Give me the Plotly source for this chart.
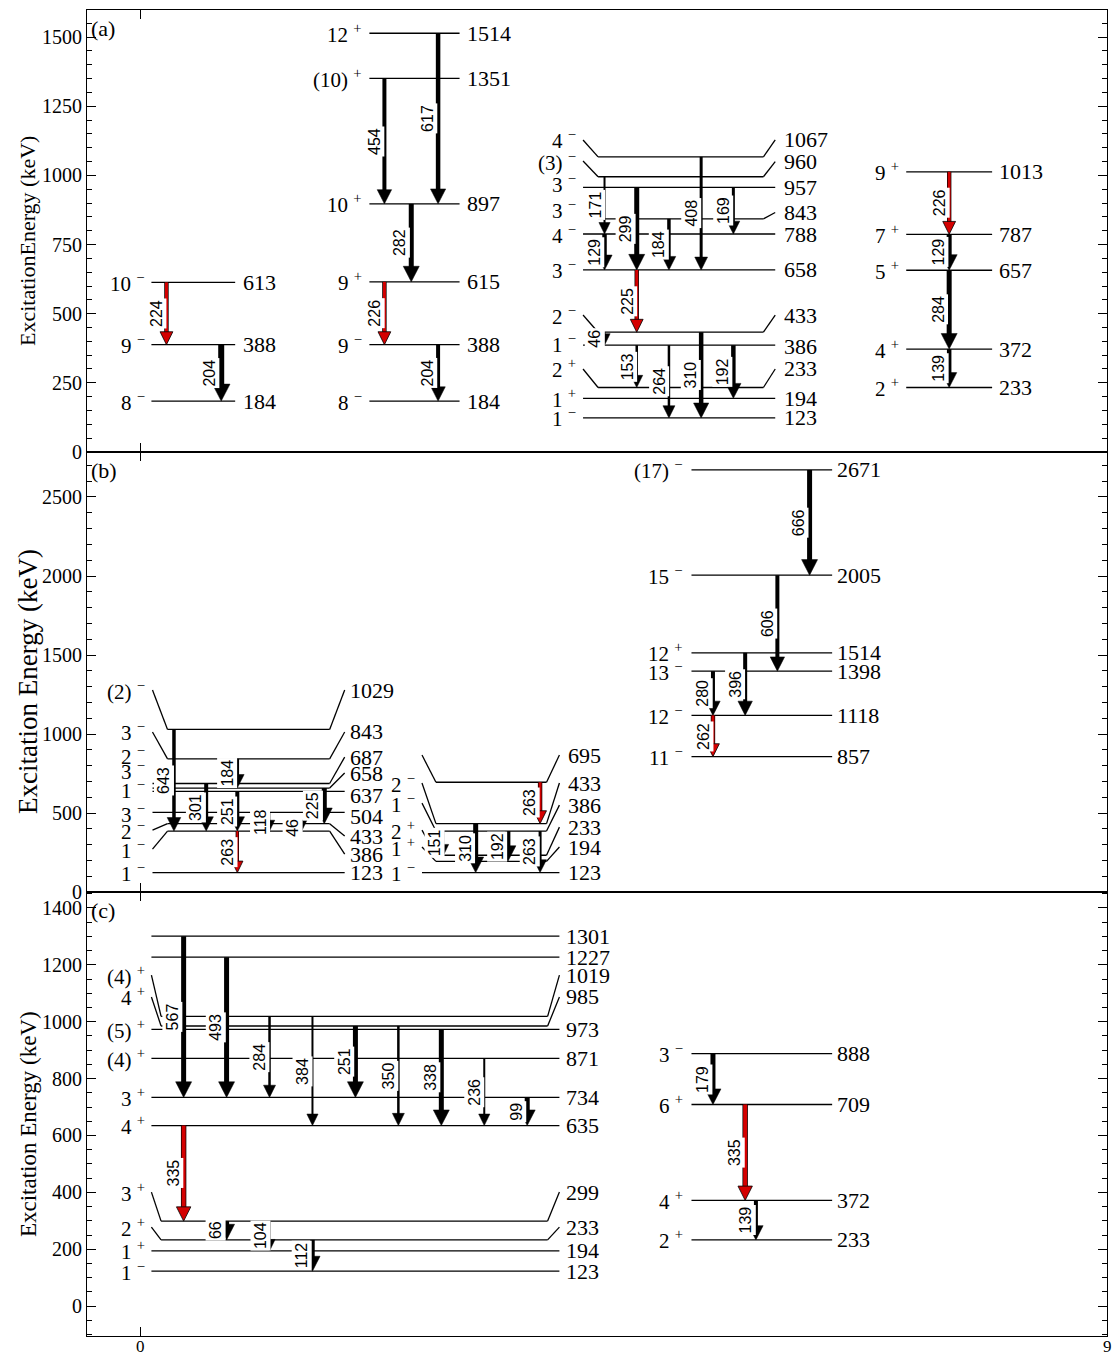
import plotly.graph_objects as go

# ---------------------------------------------------------------------------
# Level energies (keV), spin-parity assignments and gamma transitions
# ---------------------------------------------------------------------------
# Panel (a)
A1_LEVELS = [613, 388, 184]
A1_SPINS = ["10-", "9-", "8-"]
A1_GAMMA = [224, 204]
A1_FROM = [613, 388]
A1_TO = [388, 184]

A2_LEVELS = [1514, 1351, 897, 615, 388, 184]
A2_SPINS = ["12+", "(10)+", "10+", "9+", "9-", "8-"]
A2_GAMMA = [454, 617, 282, 226, 204]
A2_FROM = [1351, 1514, 897, 615, 388]
A2_TO = [897, 897, 615, 388, 184]

A3_LEVELS = [1067, 960, 957, 843, 788, 658, 433, 386, 233, 194, 123]
A3_SPINS = ["4-", "(3)-", "3-", "3-", "4-", "3-", "2-", "1-", "2+", "1+", "1-"]
A3_GAMMA = [171, 129, 299, 184, 408, 169, 225, 46, 153, 264, 310, 192]
A3_FROM = [960, 788, 957, 843, 1067, 957, 658, 433, 386, 386, 433, 386]
A3_TO = [788, 658, 658, 658, 658, 788, 433, 386, 233, 123, 123, 194]

A4_LEVELS = [1013, 787, 657, 372, 233]
A4_SPINS = ["9+", "7+", "5+", "4+", "2+"]
A4_GAMMA = [226, 129, 284, 139]
A4_FROM = [1013, 787, 657, 372]
A4_TO = [787, 657, 372, 233]

# Panel (b)
B1_LEVELS = [1029, 843, 687, 658, 637, 504, 433, 386, 123]
B1_SPINS = ["(2)-", "3-", "2-", "3-", "1-", "3-", "2-", "1-", "1-"]
B1_GAMMA = [643, 301, 184, 251, 263, 118, 46, 225]
B1_FROM = [1029, 687, 843, 637, 386, 504, 433, 658]
B1_TO = [386, 386, 658, 386, 123, 386, 386, 433]

B2_LEVELS = [695, 433, 386, 233, 194, 123]
B2_SPINS = ["", "2-", "1-", "2+", "1+", "1-"]
B2_GAMMA = [151, 310, 192, 263, 263]
B2_FROM = [386, 433, 386, 695, 386]
B2_TO = [233, 123, 194, 433, 123]

B3_LEVELS = [2671, 2005, 1514, 1398, 1118, 857]
B3_SPINS = ["(17)-", "15-", "12+", "13-", "12-", "11-"]
B3_GAMMA = [666, 606, 396, 280, 262]
B3_FROM = [2671, 2005, 1514, 1398, 1118]
B3_TO = [2005, 1398, 1118, 1118, 857]

# Panel (c)
C1_LEVELS = [1301, 1227, 1019, 985, 973, 871, 734, 635, 299, 233, 194, 123]
C1_SPINS = ["", "", "(4)+", "4+", "(5)+", "(4)+", "3+", "4+", "3+", "2+", "1+", "1-"]
C1_GAMMA = [567, 493, 284, 384, 251, 350, 338, 236, 99, 335, 66, 104, 112]
C1_FROM = [1301, 1227, 1019, 1019, 985, 985, 973, 871, 734, 635, 299, 299, 233]
C1_TO = [734, 734, 734, 635, 734, 635, 635, 635, 635, 299, 233, 194, 123]

C2_LEVELS = [888, 709, 372, 233]
C2_SPINS = ["3-", "6+", "4+", "2+"]
C2_GAMMA = [179, 335, 139]
C2_FROM = [888, 709, 372]
C2_TO = [709, 372, 233]

X_TICKS = [0, 9]

# ---------------------------------------------------------------------------
# Figure geometry
# ---------------------------------------------------------------------------
FIG_W, FIG_H = 1116, 1358
MARGIN = dict(l=87, r=9, t=10, b=22)
X_RANGE = [-0.5, 9]
PLOT_W = FIG_W - MARGIN["l"] - MARGIN["r"]
PLOT_H = FIG_H - MARGIN["t"] - MARGIN["b"]

PANELS = {
    "a": dict(xa="x3", ya="y3", domain=[0.6667, 1.0], yrange=[0, 1598], dtick=250, minor=50,
              title="ExcitationEnergy (keV)", tag="(a)", tsize=22),
    "b": dict(xa="x2", ya="y2", domain=[0.3348, 0.6667], yrange=[0, 2785], dtick=500, minor=100,
              title="Excitation Energy (keV)", tag="(b)", tsize=27),
    "c": dict(xa="x", ya="y", domain=[0.0, 0.3348], yrange=[-105, 1456], dtick=200, minor=50,
              title="Excitation Energy (keV)", tag="(c)", tsize=23),
}

PX_PER_X = PLOT_W / (X_RANGE[1] - X_RANGE[0])


def px_per_y(p):
    P = PANELS[p]
    return (P["domain"][1] - P["domain"][0]) * PLOT_H / (P["yrange"][1] - P["yrange"][0])


# Drawing layout of each level sequence: line extents, label columns,
# arrow columns, arrow widths, highlighted (red) transitions and
# label offsets / connector kinks  {E: (left label y, left mode, right label y, right mode)}
# mode 0: straight line to outer end; 1: inner end + connector; 2: inner end, no connector
GROUPS = [
    dict(panel="a", levels=A1_LEVELS, spins=A1_SPINS, gamma=A1_GAMMA, g_from=A1_FROM, g_to=A1_TO,
         xl=0.10, xr=0.88, sx=0.055, ex=0.93,
         gx=[0.24, 0.75], gw=[3, 6], red=[1, 0], kinks={}, shift={}),
    dict(panel="a", levels=A2_LEVELS, spins=A2_SPINS, gamma=A2_GAMMA, g_from=A2_FROM, g_to=A2_TO,
         xl=2.13, xr=2.97, sx=2.08, ex=3.02,
         gx=[2.27, 2.77, 2.52, 2.27, 2.77], gw=[4, 4.5, 5, 3, 4], red=[0, 0, 0, 1, 0], kinks={}, shift={}),
    dict(panel="a", levels=A3_LEVELS, spins=A3_SPINS, gamma=A3_GAMMA, g_from=A3_FROM, g_to=A3_TO,
         xl=4.12, xil=4.26, xir=5.80, xr=5.91, sx=4.07, ex=5.97,
         gx=[4.32, 4.32, 4.62, 4.92, 5.22, 5.52, 4.62, 4.32, 4.62, 4.92, 5.22, 5.52],
         gw=[2, 4.5, 5, 3.5, 3, 3, 3, 2, 2.5, 2.5, 4.5, 4.5],
         red=[0, 0, 0, 0, 0, 0, 1, 0, 0, 0, 0, 0],
         kinks={1067: (1128, 1, 1128, 1), 960: (1052, 1, 1050, 1), 957: (970, 0, 957, 0),
                843: (875, 2, 866, 1), 433: (495, 1, 495, 1), 386: (392, 0, 380, 0),
                233: (300, 1, 300, 1)},
         shift={960: 35}),
    dict(panel="a", levels=A4_LEVELS, spins=A4_SPINS, gamma=A4_GAMMA, g_from=A4_FROM, g_to=A4_TO,
         xl=7.13, xr=7.93, sx=7.08, ex=7.98,
         gx=[7.53, 7.53, 7.53, 7.53], gw=[3, 5, 5, 4.5], red=[1, 0, 0, 0], kinks={}, shift={}),
    dict(panel="b", levels=B1_LEVELS, spins=B1_SPINS, gamma=B1_GAMMA, g_from=B1_FROM, g_to=B1_TO,
         xl=0.11, xil=0.25, xir=1.76, xr=1.90, sx=0.055, ex=1.93,
         gx=[0.31, 0.61, 0.90, 0.90, 0.90, 1.20, 1.50, 1.71],
         gw=[3.5, 4, 3.5, 4, 2, 1.5, 1.5, 5], red=[0, 0, 0, 0, 1, 0, 0, 0],
         kinks={1029: (1278, 1, 1278, 1), 843: (1013, 1, 1013, 1), 687: (867, 0, 854, 1),
                658: (772, 0, 753, 1), 637: (646, 0, 608, 0), 504: (500, 0, 478, 0),
                433: (392, 1, 354, 1), 386: (272, 1, 240, 1)},
         shift={}),
    dict(panel="b", levels=B2_LEVELS, spins=B2_SPINS, gamma=B2_GAMMA, g_from=B2_FROM, g_to=B2_TO,
         xl=2.62, xil=2.75, xir=3.78, xr=3.90, sx=2.57, ex=3.96,
         gx=[2.82, 3.12, 3.42, 3.72, 3.72], gw=[1.5, 5, 5, 3, 3], red=[0, 0, 0, 1, 0],
         kinks={695: (867, 1, 867, 1), 433: (690, 1, 690, 1), 386: (563, 1, 550, 1),
                233: (392, 1, 411, 1), 194: (285, 1, 285, 1)},
         shift={}),
    dict(panel="b", levels=B3_LEVELS, spins=B3_SPINS, gamma=B3_GAMMA, g_from=B3_FROM, g_to=B3_TO,
         xl=5.13, xr=6.44, sx=5.07, ex=6.47,
         gx=[6.23, 5.93, 5.63, 5.33, 5.33], gw=[5, 4, 4, 4, 3], red=[0, 0, 0, 0, 1],
         kinks={}, shift={}),
    dict(panel="c", levels=C1_LEVELS, spins=C1_SPINS, gamma=C1_GAMMA, g_from=C1_FROM, g_to=C1_TO,
         xl=0.10, xil=0.19, xir=3.79, xr=3.90, sx=0.055, ex=3.94,
         gx=[0.4, 0.8, 1.2, 1.6, 2.0, 2.4, 2.8, 3.2, 3.6, 0.4, 0.8, 1.2, 1.6],
         gw=[5, 5, 2.5, 2, 5, 2.5, 5, 2, 5, 4, 5, 2, 4.5],
         red=[0, 0, 0, 0, 0, 0, 0, 0, 0, 1, 0, 0, 0],
         kinks={1019: (1164, 1, 1164, 1), 985: (1087, 1, 1087, 1),
                299: (401, 1, 401, 1), 233: (278, 1, 278, 1)},
         shift={}),
    dict(panel="c", levels=C2_LEVELS, spins=C2_SPINS, gamma=C2_GAMMA, g_from=C2_FROM, g_to=C2_TO,
         xl=5.13, xr=6.44, sx=5.07, ex=6.47,
         gx=[5.33, 5.63, 5.73], gw=[5, 4, 4], red=[0, 1, 0], kinks={}, shift={}),
]

SERIF = "Liberation Serif, Times New Roman, serif"
SANS = "Liberation Sans, Arial, sans-serif"
RED = "#d40000"
LEVEL_W = 1.3

shapes = []
annotations = []


def spin_markup(s):
    if not s:
        return ""
    sign = "+" if s[-1] == "+" else "\u2212"
    return f"{s[:-1]} <sup>{sign}</sup>"


def seg(xa, ya, x0, y0, x1, y1, color="black", width=LEVEL_W):
    shapes.append(dict(type="line", xref=xa, yref=ya, x0=x0, y0=y0, x1=x1, y1=y1,
                       line=dict(color=color, width=width)))


def arrow(p, x, y_top, y_tip, w, red):
    P = PANELS[p]
    xa, ya = P["xa"], P["ya"]
    ky = px_per_y(p)
    half_px = 4.0 + 0.8 * w
    half = half_px / PX_PER_X
    hl = (1.7 * half_px + 2) / ky
    y_base = y_tip + hl
    shaft_end = y_tip + 0.6 * hl
    if red:
        seg(xa, ya, x, y_top, x, shaft_end, "black", w + 1.4)
        seg(xa, ya, x, y_top, x, shaft_end, RED, w)
        fill, edge, ew = RED, "black", 0.8
    else:
        seg(xa, ya, x, y_top, x, shaft_end, "black", w)
        fill, edge, ew = "black", "black", 0.5
    shapes.append(dict(type="path", xref=xa, yref=ya,
                       path=f"M {x - half},{y_base} L {x + half},{y_base} L {x},{y_tip} Z",
                       fillcolor=fill, line=dict(color=edge, width=ew)))


for G in GROUPS:
    p = G["panel"]
    P = PANELS[p]
    xa, ya = P["xa"], P["ya"]
    disp = {E: E + G["shift"].get(E, 0) for E in G["levels"]}

    # level lines, connectors and labels
    for E, J in zip(G["levels"], G["spins"]):
        y = disp[E]
        yl, kl, yr, kr = G["kinks"].get(E, (y, 0, y, 0))
        x_start = G["xl"] if kl == 0 else G["xil"]
        x_end = G["xr"] if kr == 0 else G["xir"]
        seg(xa, ya, x_start, y, x_end, y)
        if kl == 1:
            seg(xa, ya, G["xl"], yl, G["xil"], y)
        if kr == 1:
            seg(xa, ya, G["xir"], y, G["xr"], yr)
        if J:
            annotations.append(dict(xref=xa, yref=ya, x=G["sx"], y=yl, text=spin_markup(J),
                                    showarrow=False, xanchor="right", yanchor="middle",
                                    font=dict(family=SERIF, size=21, color="black")))
        annotations.append(dict(xref=xa, yref=ya, x=G["ex"], y=yr, text=str(E),
                                showarrow=False, xanchor="left", yanchor="middle",
                                font=dict(family=SERIF, size=22, color="black")))

    # gamma transitions
    for g, f, t, x, w, r in zip(G["gamma"], G["g_from"], G["g_to"], G["gx"], G["gw"], G["red"]):
        y0, y1 = disp[f], disp[t]
        arrow(p, x, y0, y1, w, r)
        annotations.append(dict(xref=xa, yref=ya, x=x, y=(y0 + y1) / 2, text=str(g),
                                showarrow=False, textangle=-90, xanchor="center", yanchor="middle",
                                xshift=-(w / 2 + 8.5), bgcolor="white", borderpad=1,
                                font=dict(family=SANS, size=16, color="black")))

fig = go.Figure()

axis_common = dict(showgrid=False, zeroline=False, showline=True, linecolor="black", linewidth=1.2,
                   mirror="ticks", ticks="inside", ticklen=9, tickwidth=1.3, tickcolor="black",
                   automargin=False)

layout = dict(width=FIG_W, height=FIG_H, margin=MARGIN, paper_bgcolor="white",
              plot_bgcolor="white", showlegend=False)

for key, P in PANELS.items():
    xname = "xaxis" + P["xa"][1:]
    yname = "yaxis" + P["ya"][1:]
    layout[xname] = dict(axis_common, range=X_RANGE, tickvals=X_TICKS, anchor=P["ya"],
                         showticklabels=False)
    layout[yname] = dict(axis_common, range=P["yrange"], domain=P["domain"], anchor=P["xa"],
                         tick0=0, dtick=P["dtick"],
                         minor=dict(dtick=P["minor"], ticks="inside", ticklen=5, tickwidth=1,
                                    tickcolor="black"),
                         tickfont=dict(family=SERIF, size=20, color="black"))
    fig.add_trace(go.Scatter(x=[None], y=[None], xaxis=P["xa"], yaxis=P["ya"],
                             mode="markers", hoverinfo="skip"))
    ymid = (P["domain"][0] + P["domain"][1]) / 2 - 10 / PLOT_H
    annotations.append(dict(xref="paper", yref="paper", x=(28 - MARGIN["l"]) / PLOT_W, y=ymid,
                            text=P["title"], textangle=-90, showarrow=False,
                            xanchor="center", yanchor="middle",
                            font=dict(family=SERIF, size=P["tsize"], color="black")))
    annotations.append(dict(xref="paper", yref="paper", x=2 / PLOT_W, y=P["domain"][1] - 4 / PLOT_H,
                            text=P["tag"], showarrow=False, xanchor="left", yanchor="top",
                            font=dict(family=SERIF, size=22, color="black")))

# bottom x tick labels, placed tight under the frame
for xv in X_TICKS:
    annotations.append(dict(xref="x", yref="paper", x=xv, y=0, yshift=0, text=str(xv),
                            showarrow=False, xanchor="center", yanchor="top", borderpad=0,
                            font=dict(family=SERIF, size=17, color="black")))

layout["shapes"] = shapes
layout["annotations"] = annotations
fig.update_layout(**layout)

fig.write_html("out.html")
